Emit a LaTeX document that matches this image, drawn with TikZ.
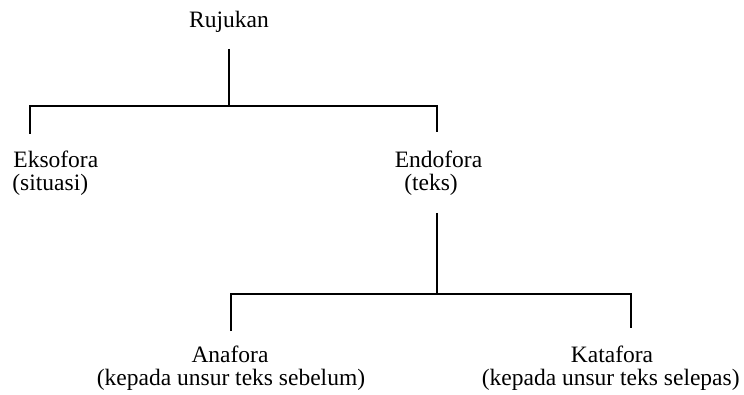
\documentclass[tikz,border=0pt]{standalone}
\usepackage{fontspec}
\setmainfont{Liberation Serif}
\begin{document}
\begin{tikzpicture}[x=0.5pt,y=-0.5pt,
  lbl/.style={inner sep=0pt, anchor=base, font=\fontsize{11.75}{11.5}\selectfont},
  lbll/.style={lbl, anchor=base west},
  lblr/.style={lbl, anchor=base east},
  conn/.style={line width=0.6pt, line cap=butt}]
\useasboundingbox (0,0) rectangle (744,395);
% labels
\node[lbl] (ruj) at (229,28) {Rujukan};
\node[lbll] (eks) at (13,168) {Eksofora};
\node[lbll] (eksd) at (12,191) {(situasi)};
\node[lbl] (endo) at (438.5,168) {Endofora};
\node[lbl] (endod) at (431,191) {(teks)};
\node[lbl] (ana) at (230,362) {Anafora};
\node[lbl] (anad) at (231,385) {(kepada unsur teks sebelum)};
\node[lbl] (kata) at (612,362) {Katafora};
\node[lblr] (katad) at (740,385) {(kepada unsur teks selepas)};
% connector ends
\coordinate (r0) at (229,49);
\coordinate (j1) at (229,106);
\coordinate (e0) at (30,134);
\coordinate (n0) at (437,132);
\coordinate (n1) at (437,213);
\coordinate (j2) at (437,294);
\coordinate (a0) at (231,331);
\coordinate (k0) at (631,328);
% connectors
\draw[conn] (r0) -- (j1);
\draw[conn] (e0) |- (j1) -| (n0);
\draw[conn] (n1) -- (j2);
\draw[conn] (a0) |- (j2) -| (k0);
\end{tikzpicture}
\end{document}
